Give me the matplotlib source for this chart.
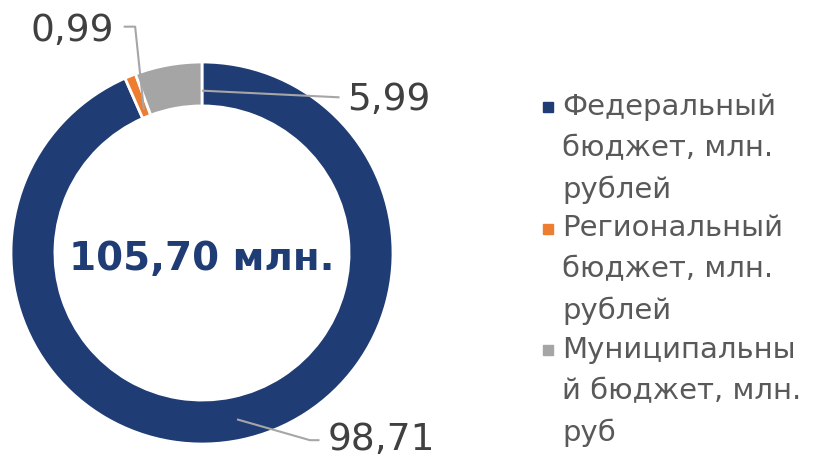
import matplotlib
matplotlib.use('Agg')
import matplotlib.pyplot as plt
import numpy as np
from matplotlib.patches import Rectangle

labels = ['Федеральный\nбюджет, млн.\nрублей',
          'Региональный\nбюджет, млн.\nрублей',
          'Муниципальны\nй бюджет, млн.\nруб']
values = [98.71, 0.99, 5.99]
value_text = ['98,71', '0,99', '5,99']
total_text = '105,70 млн.'
colors = ['#1F3C74', '#ED7D31', '#A5A5A5']

plt.rcParams['font.family'] = ['DejaVu Sans']

W, H = 814, 459
fig = plt.figure(figsize=(W / 100, H / 100), dpi=100)

cx, cy, R = 202, 253, 191
ax = fig.add_axes([(cx - R) / W, (H - cy - R) / H, 2 * R / W, 2 * R / H])
wedges, _ = ax.pie(values, colors=colors, startangle=90, counterclock=False,
                   radius=1, wedgeprops=dict(width=0.23, edgecolor='white', linewidth=2))
ax.set_xlim(-1, 1)
ax.set_ylim(-1, 1)
ax.set_aspect('equal')
ax.axis('off')

ax.text(0, -0.03, total_text, ha='center', va='center', fontsize=28,
        fontweight='bold', color='#1F3C74')

# leader lines + data labels
line_kw = dict(color='#A6A6A6', lw=1.5, solid_capstyle='butt')
lab_kw = dict(fontsize=27, color='#404040')

# federal
w = wedges[0]
a = np.deg2rad((w.theta1 + w.theta2) / 2)
p0 = (0.89 * np.cos(a), 0.89 * np.sin(a))
ax.plot([p0[0], 0.565, 0.615], [p0[1], -0.98, -0.98], clip_on=False, **line_kw)
ax.text(0.66, -0.98, value_text[0], ha='left', va='center', clip_on=False, **lab_kw)

# regional
w = wedges[1]
a = np.deg2rad((w.theta1 + w.theta2) / 2)
p0 = (0.81 * np.cos(a), 0.81 * np.sin(a))
ax.plot([p0[0], -0.35, -0.41], [p0[1], 1.185, 1.185], clip_on=False, **line_kw)
ax.text(-0.46, 1.16, value_text[1], ha='right', va='center', clip_on=False, **lab_kw)

# municipal
w = wedges[2]
a = np.deg2rad(w.theta1)
p0 = (0.85 * np.cos(a), 0.85 * np.sin(a))
ax.plot([p0[0], 0.72], [p0[1], 0.815], clip_on=False, **line_kw)
ax.text(0.76, 0.80, value_text[2], ha='left', va='center', clip_on=False, **lab_kw)

# legend
line_h = 40.5
y_top = 107
for i, (lab, c) in enumerate(zip(labels, colors)):
    yc = y_top + i * 3 * line_h
    fig.add_artist(Rectangle((543 / W, (H - yc - 5) / H), 10 / W, 10 / H,
                             transform=fig.transFigure, color=c))
    fig.text(562 / W, (H - yc + line_h / 2 - 6) / H, lab, ha='left', va='top',
             fontsize=21, color='#595959', linespacing=1.6)

fig.savefig('out.png', dpi=100)
